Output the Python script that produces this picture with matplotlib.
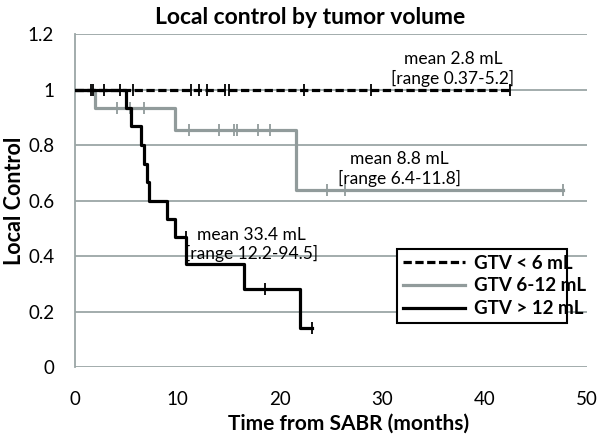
import numpy as np
import matplotlib.pyplot as plt

plt.rcParams['font.family'] = ['Lato', 'DejaVu Sans']

# GTV < 6 mL: no events
small_t = [0, 42.5]
small_s = [1.0, 1.0]
small_cens = [1.6, 1.8, 2.8, 4.4, 5.7, 11.3, 12.1, 12.9, 14.6, 15.0, 22.4, 28.9, 42.5]

# GTV 6-12 mL
mid_t = [0, 1.95, 9.75, 21.6, 47.7]
mid_s = [1.0, 0.933, 0.854, 0.638, 0.638]
mid_cens = [4.1, 5.4, 6.75, 11.1, 14.1, 15.5, 15.85, 17.9, 19.0, 24.6, 26.4, 47.7]

# GTV > 12 mL
big_t = [0, 5.0, 5.5, 6.4, 6.7, 7.05, 7.25, 8.95, 9.77, 10.84, 16.5, 22.0, 23.1]
big_s = [1.0, 0.933, 0.867, 0.8, 0.733, 0.667, 0.6, 0.533, 0.467, 0.373, 0.28, 0.14, 0.14]
big_cens = [10.84, 18.55, 23.1]
big_cens_s = [0.467, 0.28, 0.14]


def surv_at(t, times, surv):
    idx = np.searchsorted(times, t, side='right') - 1
    return np.array(surv)[idx]


gray = '#919b9b'
gridc = '#9ba6a6'

fig = plt.figure(figsize=(6.02, 4.37), dpi=100)
ax = fig.add_axes([0.1246, 0.160, 0.8505, 0.762])

ax.set_xlim(0, 50)
ax.set_ylim(0, 1.2)
ax.set_yticks(np.arange(0, 1.21, 0.2))
ax.set_yticklabels(['0', '0.2', '0.4', '0.6', '0.8', '1', '1.2'])
ax.set_xticks(range(0, 51, 10))
ax.yaxis.grid(True, color=gridc, lw=1.3)
ax.set_axisbelow(True)
for sp in ['top', 'right', 'bottom']:
    ax.spines[sp].set_visible(False)
ax.spines['left'].set_color(gridc)
ax.spines['left'].set_linewidth(1.3)
ax.tick_params(length=0, labelsize=13.5, pad=15)
ax.tick_params(axis='x', pad=17)

lw = 2.3
ax.plot(mid_t, mid_s, drawstyle='steps-post', color=gray, lw=lw, label='GTV 6-12 mL', zorder=3)
ax.plot(mid_cens, surv_at(mid_cens, mid_t, mid_s), ls='none', marker='|', ms=9,
        mew=1.3, color=gray, zorder=3)

ax.plot(big_t, big_s, drawstyle='steps-post', color='black', lw=lw, label='GTV > 12 mL', zorder=4)
ax.plot(big_cens, big_cens_s, ls='none', marker='|', ms=9, mew=1.3, color='black', zorder=4)

ax.plot(small_t, small_s, color='black', lw=lw, ls=(0, (2.6, 1.1)), label='GTV < 6 mL', zorder=5)
ax.plot(small_cens, [1.0] * len(small_cens), ls='none', marker='|', ms=9, mew=1.3,
        color='black', zorder=5)

note_kw = dict(ha='center', va='center', fontsize=12.5, linespacing=1.2)
ax.text(36.9, 1.075, 'mean 2.8 mL\n[range 0.37-5.2]', **note_kw)
ax.text(31.7, 0.715, 'mean 8.8 mL\n[range 6.4-11.8]', **note_kw)
ax.text(17.2, 0.442, 'mean 33.4 mL\n[range 12.2-94.5]', **note_kw)

handles, labels = ax.get_legend_handles_labels()
order = [2, 0, 1]
leg = ax.legend([handles[i] for i in order], [labels[i] for i in order],
                loc='lower left', bbox_to_anchor=(0.611, 0.105, 0.369, 0.246),
                mode='expand', fancybox=False, framealpha=1, edgecolor='black',
                handlelength=3.3, handletextpad=0.5, borderpad=0.3, labelspacing=0.3,
                prop={'weight': 'bold', 'size': 13.5})
leg.get_frame().set_linewidth(1.5)

ax.set_title('Local control by tumor volume', fontsize=16.5, fontweight='bold', x=0.459, pad=7)
ax.set_xlabel('Time from SABR (months)', fontsize=15, fontweight='bold', labelpad=4, x=0.535)
ax.set_ylabel('Local Control', fontsize=15.5, fontweight='bold', labelpad=2)

fig.savefig('out.png', dpi=100)
